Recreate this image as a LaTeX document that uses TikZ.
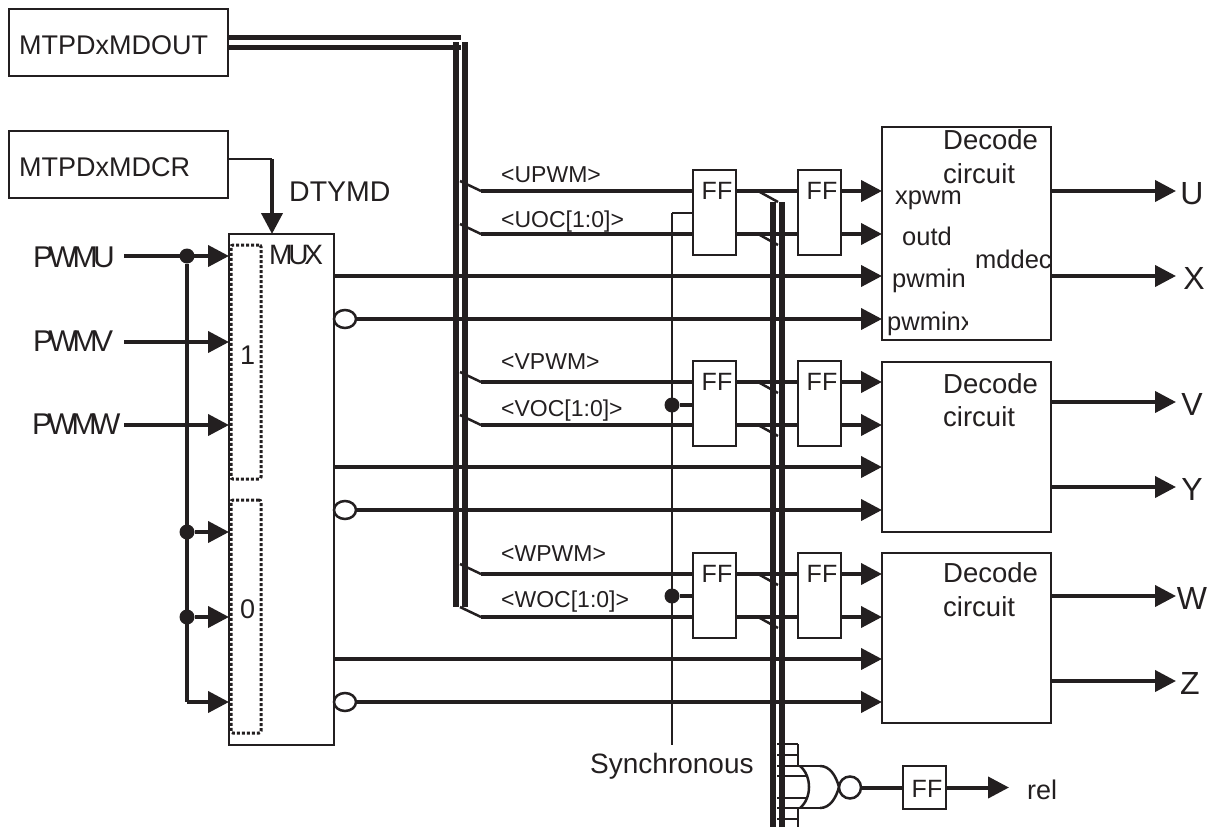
\documentclass[tikz,border=0pt]{standalone}
\usepackage{fontspec}
\setmainfont{Liberation Sans}
\newfontfamily\tightfont[LetterSpace=-15]{Liberation Sans}
\usetikzlibrary{arrows.meta,shapes.geometric}
\definecolor{pwmInk}{RGB}{35,31,32}
\newcommand{\fsz}[1]{\fontsize{#1}{#1}\selectfont}
\begin{document}
\begin{tikzpicture}[
    x=1pt, y=-1pt,
    every node/.style={text=pwmInk},
    txt/.style={anchor=base west, inner sep=0pt, font=\fsz{27}},
    small/.style={txt, font=\fsz{23}},
    pin/.style={txt, font=\fsz{25.5}},
    pwmlabel/.style={txt, font=\fsz{30}\tightfont},
    outlabel/.style={anchor=base, inner sep=0pt, font=\fsz{32}},
    fflabel/.style={anchor=base, inner sep=0pt, font=\fsz{25}},
    box/.style={draw=pwmInk, line width=2.5pt, anchor=north west, inner sep=0pt, outer sep=0pt},
    bubble/.style={draw=pwmInk, line width=2.5pt, fill=white, ellipse, inner sep=0pt, outer sep=0pt},
    dotbox/.style={box, line width=3pt, dash pattern=on 3pt off 2pt, rounded corners=2pt},
    dot/.style={circle, fill=pwmInk, inner sep=0pt, outer sep=0pt, minimum size=15pt},
    wire/.style={pwmInk, line width=4pt},
    thinwire/.style={pwmInk, line width=2.5pt},
    bus/.style={pwmInk, line width=5.5pt},
    arrow/.style={wire, -{Triangle[length=21pt,width=21pt]}}
  ]
    \useasboundingbox (0,0) rectangle (1217,827);
    % registers
    \node[box, minimum width=219pt, minimum height=67pt] (mdout) at (9,9) {};
    \node[box, minimum width=219pt, minimum height=67pt] (mdcr) at (9,131) {};
    \node[txt] (mdouttxt) at (19,54) {MTPDxMDOUT};
    \node[txt] (mdcrtxt) at (19,176) {MTPDxMDCR};
    \node[txt, font=\fsz{28.5}] (dtymd) at (289,201) {DTYMD};
    % mux
    \node[box, minimum width=105pt, minimum height=511pt] (mux) at (229,234) {};
    \node[dotbox, minimum width=30pt, minimum height=234pt] (sel1) at (231,245) {};
    \node[dotbox, minimum width=30pt, minimum height=233pt] (sel0) at (231,500) {};
    \node[txt, font=\fsz{28}\tightfont] (muxtxt) at (269,264) {MUX};
    \node[txt] (one) at (240,364) {1};
    \node[txt] (zero) at (240,618) {0};
    \coordinate (dtycorner) at (272,159);
    \draw[thinwire] (mdcr.east |- dtycorner) -- (dtycorner);
    \draw[arrow] (dtycorner) -- (dtycorner |- mux.north);
    % mux inputs
    \node[pwmlabel] (pwmu) at (33,267) {PWMU};
    \node[pwmlabel] (pwmv) at (33,351) {PWMV};
    \node[pwmlabel] (pwmw) at (32,434) {PWMW};
    \coordinate (iu) at (124,256);
    \coordinate (iv) at (124,342);
    \coordinate (iw) at (124,425);
    \foreach \n in {iu,iv,iw}
      \draw[arrow] (\n) -- (\n -| mux.west);
    \node[dot] (tapa) at (187,256) {};
    \node[dot] (tapb) at (187,532) {};
    \node[dot] (tapc) at (187,617) {};
    \coordinate (tapd) at (187,702);
    \draw[wire] (tapa) -- (tapd);
    \foreach \n in {tapb,tapc,tapd}
      \draw[arrow] (\n) -- (\n -| mux.west);
    % output bus
    \coordinate (busa) at (461,37.7);
    \coordinate (busb) at (461,47.3);
    \coordinate (busc) at (456,42);
    \coordinate (busd) at (465,42);
    \draw[bus] (mdout.east |- busa) -- (busa);
    \draw[bus] (mdout.east |- busb) -- (busb);
    \draw[bus] (busc) -- (456,607);
    \draw[bus] (busd) -- (465,607);
    \coordinate (relc) at (773,202);
    \coordinate (reld) at (782,202);
    \draw[bus] (relc) -- (773,827);
    \draw[bus] (reld) -- (782,827);
    % sync line
    \coordinate (synctop) at (672,213);
    \coordinate (syncend) at (672,745);
    \draw[thinwire] (synctop) -- (syncend);
    \node[txt, font=\fsz{28}] (sync) at (590,773) {Synchronous};
    % the three channels
    \foreach \rw/\chn/\dy/\lba/\lbb in {u/U/0/182/227, v/V/191/369/416, w/W/383/561/607} {
      \node[box, minimum width=43pt, minimum height=85pt] (ffa\rw) at (693,{170+\dy}) {};
      \node[box, minimum width=43pt, minimum height=85pt] (ffb\rw) at (798,{170+\dy}) {};
      \node[fflabel] (ffat\rw) at (717,{199+\dy}) {FF};
      \node[fflabel] (ffbt\rw) at (822,{199+\dy}) {FF};
      \node[small] (pl\rw) at (501,\lba) {<\chn PWM>};
      \node[small] (ol\rw) at (501,\lbb) {<\chn OC[1:0]>};
      \coordinate (pa\rw) at (481,{191+\dy});
      \coordinate (oa\rw) at (481,{234+\dy});
      \coordinate (pend\rw) at (882,{191+\dy});
      \coordinate (oend\rw) at (882,{234+\dy});
      \draw[thinwire] (460,{181+\dy}) -- (pa\rw);
      \draw[thinwire] (460,{224+\dy}) -- (oa\rw);
      \draw[wire] (pa\rw) -- (pa\rw -| ffa\rw.west);
      \draw[wire] (oa\rw) -- (oa\rw -| ffa\rw.west);
      \draw[wire] (pa\rw -| ffa\rw.east) -- (pa\rw -| ffb\rw.west);
      \draw[wire] (oa\rw -| ffa\rw.east) -- (oa\rw -| ffb\rw.west);
      \draw[thinwire] (758,{191+\dy}) -- (778,{202+\dy});
      \draw[thinwire] (758,{234+\dy}) -- (778,{245+\dy});
      \draw[arrow] (pa\rw -| ffb\rw.east) -- (pend\rw);
      \draw[arrow] (oa\rw -| ffb\rw.east) -- (oend\rw);
      % mux outputs
      \coordinate (ma\rw) at (882,{276+\dy});
      \coordinate (mb\rw) at (882,{319+\dy});
      \node[bubble, minimum width=22pt, minimum height=18pt] (nb\rw) at (345,{319+\dy}) {};
      \draw[arrow] (ma\rw -| mux.east) -- (ma\rw);
      \draw[arrow] (nb\rw) -- (mb\rw);
    }
    \node[dot] (syncv) at (672,405) {};
    \node[dot] (syncw) at (672,596) {};
    \draw[thinwire] (synctop) -- (synctop -| ffau.west);
    \draw[wire] (syncv) -- (syncv -| ffav.west);
    \draw[wire] (syncw) -- (syncw -| ffaw.west);
    % decode blocks
    \foreach \rw/\top/\hgt/\ta/\tb/\ya/\yb/\na/\nb/\xa/\xb in {u/127/213/149/183/191/276/U/X/1192/1194, v/362/170/393/426/402/487/V/Y/1192/1192, w/553/170/582/616/596/681/W/Z/1192/1190} {
      \node[box, minimum width=169pt, minimum height=\hgt pt] (dec\rw) at (882,\top) {};
      \node[txt, font=\fsz{27.5}] (dect\rw) at (943,\ta) {Decode};
      \node[txt, font=\fsz{27.5}] (cir\rw) at (943,\tb) {circuit};
      \coordinate (oa\rw) at (1176,\ya);
      \coordinate (ob\rw) at (1176,\yb);
      \draw[arrow] (oa\rw -| dec\rw.east) -- (oa\rw);
      \draw[arrow] (ob\rw -| dec\rw.east) -- (ob\rw);
      \node[outlabel] (na\rw) at (\xa,{\ya+13}) {\na};
      \node[outlabel] (nb\rw) at (\xb,{\yb+13}) {\nb};
    }
    % pin names, the last letters are cut off at the frame
    \node[pin] (xpwm) at (895,204) {xpwm};
    \node[pin] (outd) at (902,245) {outd};
    \node[pin] (pwmin) at (892,287) {pwmin};
    \begin{scope}
      \clip (884,300) rectangle (967,345);
      \node[pin] (pwminx) at (887,330) {pwminx};
    \end{scope}
    \begin{scope}
      \clip (950,240) rectangle (1050,280);
      \node[pin] (mddec) at (975,268) {mddec};
    \end{scope}
    % nor gate
    \foreach \y in {744,755,819}
      \draw[thinwire] (777,\y) -- (798,\y);
    \foreach \y in {766,808}
      \draw[thinwire] (777,\y) -- (820,\y);
    \foreach \y in {776,798}
      \draw[thinwire] (777,\y) -- (808,\y);
    \draw[thinwire] (798,744) -- (798,766);
    \draw[thinwire] (798,808) -- (798,827);
    \draw[thinwire] (800,766) .. controls (806,771) and (809,779) .. (809,787) .. controls (809,795) and (806,803) .. (800,808);
    \draw[thinwire] (820,766) .. controls (830,766) and (836,776) .. (839,787) .. controls (836,798) and (830,808) .. (820,808);
    \node[bubble, minimum width=22pt, minimum height=22pt] (norb) at (850,787.5) {};
    \node[box, minimum width=43pt, minimum height=43pt] (ffrel) at (903,766) {};
    \node[fflabel] (ffreltxt) at (927,797) {FF};
    \coordinate (relend) at (1009,787.5);
    \draw[wire] (norb) -- (ffrel);
    \draw[arrow] (ffrel) -- (relend);
    \node[txt] (rel) at (1027,799) {rel};
  \end{tikzpicture}
\end{document}
